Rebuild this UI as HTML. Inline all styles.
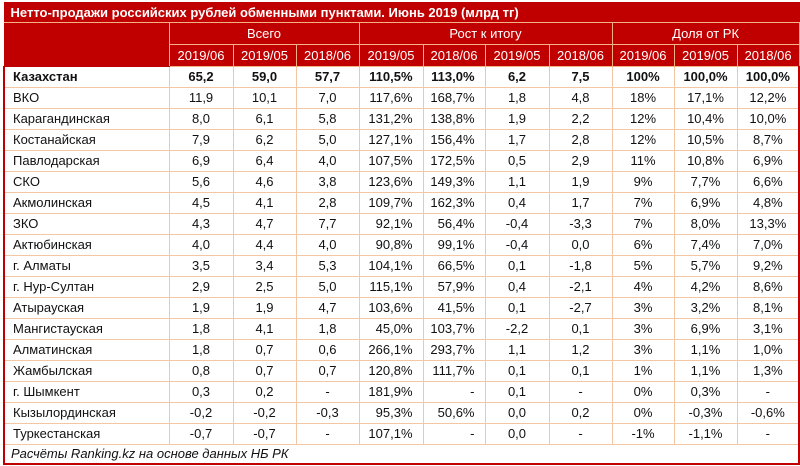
<!DOCTYPE html>
<html><head><meta charset="utf-8"><style>
body{margin:0;background:#fff;width:800px;height:466px;overflow:hidden;font-family:"Liberation Sans",sans-serif;}
table{border-collapse:collapse;position:absolute;left:3px;top:2px;width:794px;table-layout:fixed;font-size:13px;color:#111;}
td{padding:0;height:20px;line-height:20px;text-align:center;border:1px solid #f4c7a4;white-space:nowrap;}
td.n{text-align:left;padding-left:8px;}
td.r{text-align:right;padding-right:10px;}
tr.t td{background:#c00000;color:#fff;font-weight:bold;text-align:left;padding-left:6px;height:19px;line-height:19px;border:1px solid #c00000;border-bottom:1px solid #f4b183;}
tr.h td{background:#c00000;color:#fff;height:21px;line-height:21px;border:1px solid #f4b183;}
tr.h td.e{border-left-color:#c00000;}
tr.b td{font-weight:bold;}
tr.f td{text-align:left;font-style:italic;padding-left:6px;border:2px solid #c00000;border-top:1px solid #c00000;height:18px;line-height:18px;}
td:first-child{border-left:2px solid #c00000;}
td:last-child{border-right:2px solid #c00000;}
</style></head><body>
<table>
<colgroup><col style="width:165px"><col style="width:64px"><col style="width:63px"><col style="width:63px"><col style="width:64px"><col style="width:62px"><col style="width:64px"><col style="width:63px"><col style="width:62px"><col style="width:63px"><col style="width:62px"></colgroup>
<tr class="t"><td colspan="11">Нетто-продажи российских рублей обменными пунктами. Июнь 2019 (млрд тг)</td></tr>
<tr class="h"><td class="e" rowspan="2" style="border-bottom-color:#c00000"></td><td colspan="3">Всего</td><td colspan="4">Рост к итогу</td><td colspan="3">Доля от РК</td></tr>
<tr class="h"><td>2019/06</td><td>2019/05</td><td>2018/06</td><td>2019/05</td><td>2018/06</td><td>2019/05</td><td>2018/06</td><td>2019/06</td><td>2019/05</td><td>2018/06</td></tr>
<tr class="b"><td class="n">Казахстан</td><td>65,2</td><td>59,0</td><td>57,7</td><td class="r">110,5%</td><td class="r">113,0%</td><td>6,2</td><td>7,5</td><td>100%</td><td>100,0%</td><td>100,0%</td></tr>
<tr><td class="n">ВКО</td><td>11,9</td><td>10,1</td><td>7,0</td><td class="r">117,6%</td><td class="r">168,7%</td><td>1,8</td><td>4,8</td><td>18%</td><td>17,1%</td><td>12,2%</td></tr>
<tr><td class="n">Карагандинская</td><td>8,0</td><td>6,1</td><td>5,8</td><td class="r">131,2%</td><td class="r">138,8%</td><td>1,9</td><td>2,2</td><td>12%</td><td>10,4%</td><td>10,0%</td></tr>
<tr><td class="n">Костанайская</td><td>7,9</td><td>6,2</td><td>5,0</td><td class="r">127,1%</td><td class="r">156,4%</td><td>1,7</td><td>2,8</td><td>12%</td><td>10,5%</td><td>8,7%</td></tr>
<tr><td class="n">Павлодарская</td><td>6,9</td><td>6,4</td><td>4,0</td><td class="r">107,5%</td><td class="r">172,5%</td><td>0,5</td><td>2,9</td><td>11%</td><td>10,8%</td><td>6,9%</td></tr>
<tr><td class="n">СКО</td><td>5,6</td><td>4,6</td><td>3,8</td><td class="r">123,6%</td><td class="r">149,3%</td><td>1,1</td><td>1,9</td><td>9%</td><td>7,7%</td><td>6,6%</td></tr>
<tr><td class="n">Акмолинская</td><td>4,5</td><td>4,1</td><td>2,8</td><td class="r">109,7%</td><td class="r">162,3%</td><td>0,4</td><td>1,7</td><td>7%</td><td>6,9%</td><td>4,8%</td></tr>
<tr><td class="n">ЗКО</td><td>4,3</td><td>4,7</td><td>7,7</td><td class="r">92,1%</td><td class="r">56,4%</td><td>-0,4</td><td>-3,3</td><td>7%</td><td>8,0%</td><td>13,3%</td></tr>
<tr><td class="n">Актюбинская</td><td>4,0</td><td>4,4</td><td>4,0</td><td class="r">90,8%</td><td class="r">99,1%</td><td>-0,4</td><td>0,0</td><td>6%</td><td>7,4%</td><td>7,0%</td></tr>
<tr><td class="n">г. Алматы</td><td>3,5</td><td>3,4</td><td>5,3</td><td class="r">104,1%</td><td class="r">66,5%</td><td>0,1</td><td>-1,8</td><td>5%</td><td>5,7%</td><td>9,2%</td></tr>
<tr><td class="n">г. Нур-Султан</td><td>2,9</td><td>2,5</td><td>5,0</td><td class="r">115,1%</td><td class="r">57,9%</td><td>0,4</td><td>-2,1</td><td>4%</td><td>4,2%</td><td>8,6%</td></tr>
<tr><td class="n">Атырауская</td><td>1,9</td><td>1,9</td><td>4,7</td><td class="r">103,6%</td><td class="r">41,5%</td><td>0,1</td><td>-2,7</td><td>3%</td><td>3,2%</td><td>8,1%</td></tr>
<tr><td class="n">Мангистауская</td><td>1,8</td><td>4,1</td><td>1,8</td><td class="r">45,0%</td><td class="r">103,7%</td><td>-2,2</td><td>0,1</td><td>3%</td><td>6,9%</td><td>3,1%</td></tr>
<tr><td class="n">Алматинская</td><td>1,8</td><td>0,7</td><td>0,6</td><td class="r">266,1%</td><td class="r">293,7%</td><td>1,1</td><td>1,2</td><td>3%</td><td>1,1%</td><td>1,0%</td></tr>
<tr><td class="n">Жамбылская</td><td>0,8</td><td>0,7</td><td>0,7</td><td class="r">120,8%</td><td class="r">111,7%</td><td>0,1</td><td>0,1</td><td>1%</td><td>1,1%</td><td>1,3%</td></tr>
<tr><td class="n">г. Шымкент</td><td>0,3</td><td>0,2</td><td>-</td><td class="r">181,9%</td><td class="r">-</td><td>0,1</td><td>-</td><td>0%</td><td>0,3%</td><td>-</td></tr>
<tr><td class="n">Кызылординская</td><td>-0,2</td><td>-0,2</td><td>-0,3</td><td class="r">95,3%</td><td class="r">50,6%</td><td>0,0</td><td>0,2</td><td>0%</td><td>-0,3%</td><td>-0,6%</td></tr>
<tr><td class="n">Туркестанская</td><td>-0,7</td><td>-0,7</td><td>-</td><td class="r">107,1%</td><td class="r">-</td><td>0,0</td><td>-</td><td>-1%</td><td>-1,1%</td><td>-</td></tr>
<tr class="f"><td colspan="11">Расчёты Ranking.kz на основе данных НБ РК</td></tr>
</table>
</body></html>
